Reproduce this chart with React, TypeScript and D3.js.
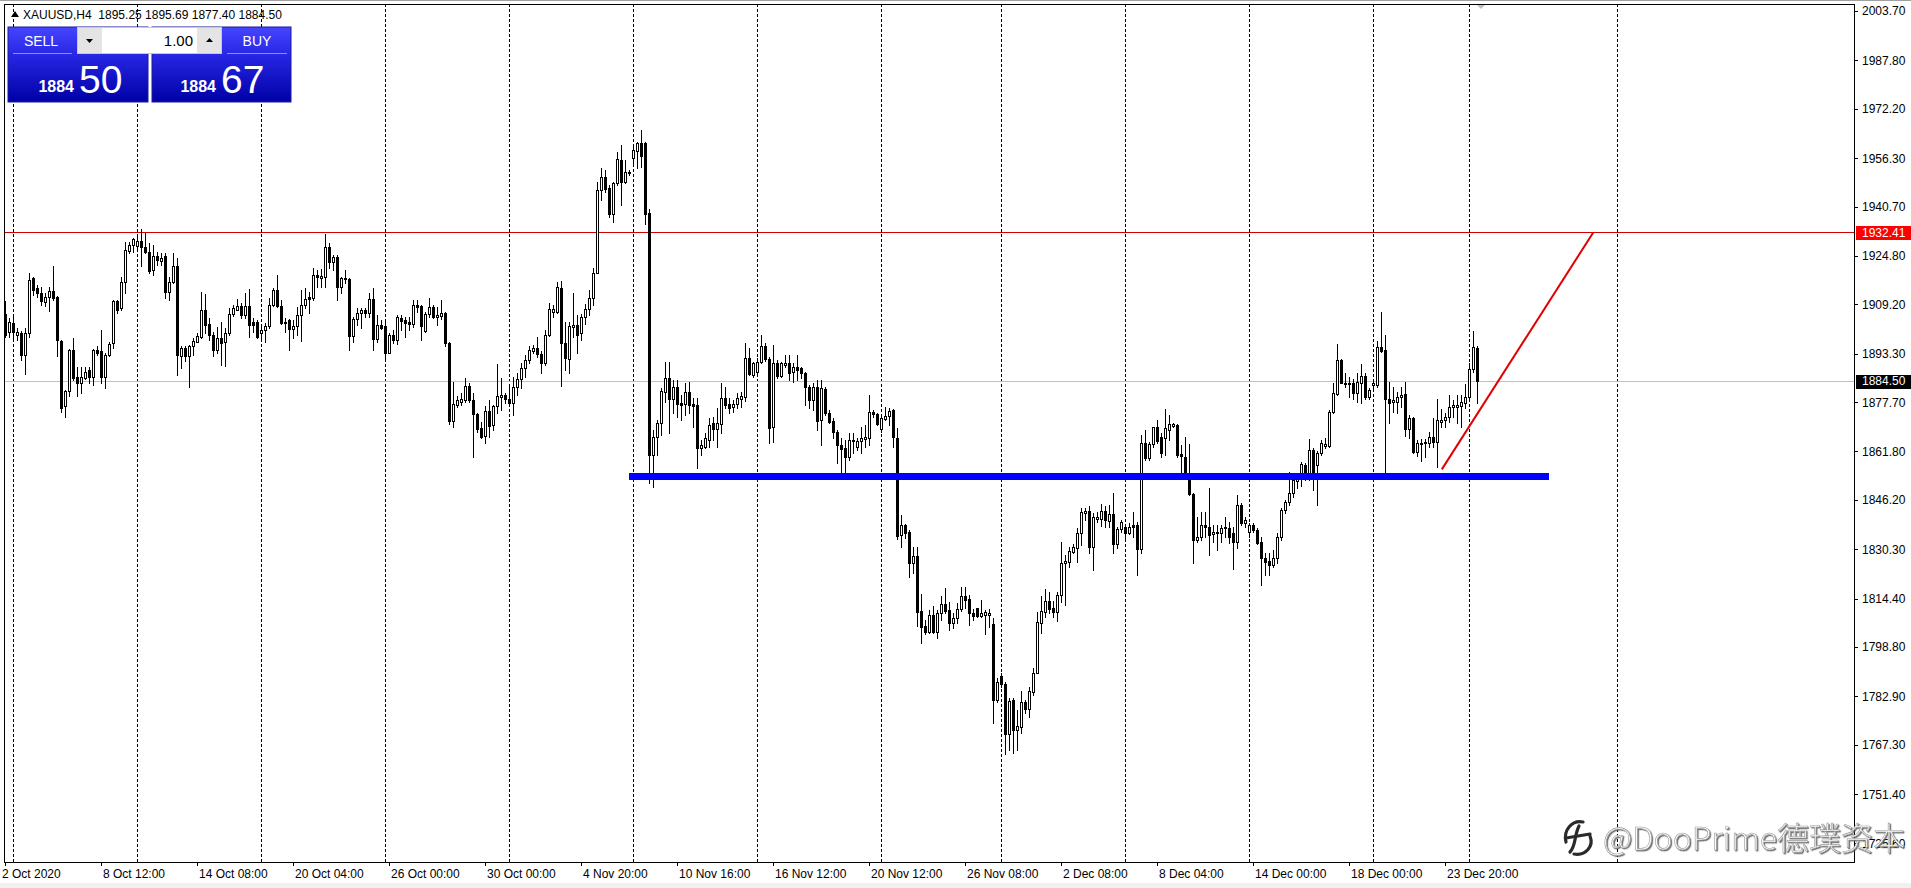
import React from 'react';
import * as d3 from 'd3';

type Bar = [number, number, number, number]; // open, high, low, close

const symbolLine = 'XAUUSD,H4  1895.25 1895.69 1877.40 1884.50';
const bidBig = '50';
const askBig = '67';
const priceHandle = '1884';
const lotSize = '1.00';

const priceTicks = [
  '2003.70', '1987.80', '1972.20', '1956.30', '1940.70', '1924.80', '1909.20', '1893.30', '1877.70',
  '1861.80', '1846.20', '1830.30', '1814.40', '1798.80', '1782.90', '1767.30', '1751.40', '1735.60',
];

const timeLabels = [
  '2 Oct 2020', '8 Oct 12:00', '14 Oct 08:00', '20 Oct 04:00', '26 Oct 00:00', '30 Oct 00:00',
  '4 Nov 20:00', '10 Nov 16:00', '16 Nov 12:00', '20 Nov 12:00', '26 Nov 08:00', '2 Dec 08:00',
  '8 Dec 04:00', '14 Dec 00:00', '18 Dec 00:00', '23 Dec 20:00',
];
const timeLabelBars = [0, 24, 48, 72, 96, 120, 144, 168, 192, 216, 240, 264, 288, 312, 336, 360];

// dotted period separators, as bar index
const gridBars = [2, 33, 64, 95, 126, 157, 188, 219, 249, 280, 311, 342, 366, 403];

const resistance = 1932.41;
const lastPrice = 1884.5;
const supportLevel = 1853.8;
const supportBars = [156, 386];
const trendFrom = { bar: 359.2, price: 1856.0 };
const trendTo = { bar: 397.1, price: 1932.41 };

// 2 Oct - 20 Oct
const earlyOct: Bar[] = [
  [1906, 1910.1, 1898.5, 1899.3], [1900.4, 1904.7, 1898.8, 1903.6], [1903.1, 1905.3, 1897.7, 1900.4],
  [1899.3, 1901.5, 1897.7, 1900.4], [1899.9, 1900.5, 1891.3, 1892.9], [1892.9, 1901.5, 1886.8, 1899.9],
  [1899.9, 1919.2, 1898.8, 1917.1], [1917.6, 1918.1, 1912.2, 1913.8], [1914.4, 1915.5, 1911.7, 1912.8],
  [1912.8, 1914.9, 1909.0, 1910.1], [1909.8, 1912.8, 1908.5, 1911.7], [1911.5, 1914.9, 1906.9, 1913.6],
  [1913.6, 1921.4, 1910.6, 1911.2], [1911.7, 1912.0, 1892.4, 1897.7], [1897.5, 1897.8, 1874.6, 1875.7],
  [1876.3, 1881.6, 1873.0, 1881.1], [1881.1, 1894.8, 1879.5, 1894.5], [1894.5, 1898.3, 1884.8, 1885.4],
  [1885.9, 1889.1, 1879.5, 1883.8], [1883.8, 1889.1, 1880.5, 1885.9], [1885.4, 1889.1, 1885.1, 1887.5],
  [1887.9, 1889.1, 1883.8, 1885.9], [1885.9, 1894.8, 1883.2, 1894.5], [1894.5, 1895.6, 1892.9, 1893.4],
  [1894.0, 1901.0, 1883.8, 1885.9], [1885.9, 1893.4, 1882.2, 1892.9], [1892.9, 1897.2, 1892.4, 1896.4],
  [1896.7, 1910.6, 1895.1, 1910.1], [1910.1, 1910.6, 1906.3, 1907.4], [1907.9, 1918.1, 1907.4, 1916.5],
  [1916.5, 1929.4, 1912.8, 1926.7], [1926.5, 1929.4, 1925.7, 1928.3], [1928.3, 1930.5, 1926.2, 1930.2],
  [1928.1, 1931.6, 1926.7, 1929.7], [1929.7, 1933.4, 1921.4, 1927.6], [1927.6, 1932.1, 1925.7, 1926.2],
  [1926.2, 1928.9, 1919.3, 1919.8], [1920.3, 1928.3, 1918.7, 1924.8], [1924.8, 1926.2, 1921.9, 1923.5],
  [1923.0, 1925.7, 1921.9, 1924.0], [1924.6, 1925.7, 1911.2, 1913.3], [1913.3, 1918.1, 1910.6, 1916.5],
  [1916.5, 1925.7, 1916.0, 1921.6], [1921.4, 1924.0, 1886.5, 1892.9], [1892.4, 1895.6, 1888.6, 1895.1],
  [1895.1, 1895.6, 1890.8, 1892.4], [1892.4, 1896.1, 1882.7, 1895.8], [1895.8, 1898.3, 1892.9, 1897.5],
  [1897.2, 1899.9, 1896.9, 1899.0], [1898.8, 1913.3, 1898.3, 1907.4], [1907.4, 1912.6, 1899.9, 1902.6],
  [1902.9, 1904.7, 1897.7, 1899.3], [1899.3, 1900.4, 1892.4, 1894.5], [1894.5, 1902.0, 1893.4, 1898.3],
  [1898.3, 1903.6, 1889.7, 1896.7], [1897.2, 1901.5, 1889.4, 1900.1], [1900.1, 1907.9, 1899.3, 1906.1],
  [1906.0, 1909.0, 1905.3, 1907.9], [1907.4, 1910.8, 1907.2, 1908.5], [1908.7, 1909.6, 1904.7, 1905.8],
  [1905.8, 1912.8, 1904.7, 1908.7], [1908.7, 1914.1, 1898.8, 1902.6], [1903.6, 1904.7, 1900.4, 1902.6],
  [1903.6, 1904.2, 1898.3, 1898.8], [1899.9, 1902.6, 1897.7, 1901.0], [1901.0, 1903.1, 1896.9, 1902.2],
  [1902.2, 1911.2, 1901.5, 1909.0], [1909.0, 1914.4, 1908.5, 1913.8], [1913.8, 1918.7, 1908.3, 1908.7],
  [1908.7, 1910.6, 1902.9, 1903.1], [1903.6, 1904.7, 1900.4, 1903.1], [1904.2, 1904.4, 1894.5, 1901.2],
  [1901.2, 1904.2, 1898.3, 1902.2], [1902.2, 1908.3, 1899.3, 1905.8], [1905.8, 1913.8, 1897.5, 1909.0],
  [1909.0, 1914.4, 1907.9, 1910.8], [1911.5, 1913.0, 1906.3, 1910.8], [1911.2, 1920.8, 1910.6, 1918.7],
  [1918.7, 1920.3, 1914.9, 1918.1], [1917.6, 1920.5, 1914.9, 1918.4], [1918.1, 1931.9, 1914.9, 1927.6],
];

// 21 Oct - 6 Nov
const lateOct: Bar[] = [
  [1927.8, 1928.8, 1920.8, 1922.9], [1922.9, 1925.1, 1920.2, 1924.5], [1924.5, 1925.1, 1910.6, 1914.9],
  [1914.9, 1918.1, 1912.7, 1917.6], [1917.6, 1920.2, 1916.0, 1917.2], [1917.2, 1917.6, 1894.5, 1899.0],
  [1899.0, 1905.2, 1897.2, 1904.4], [1904.4, 1907.9, 1902.5, 1906.5], [1906.3, 1907.9, 1901.5, 1907.2],
  [1907.2, 1907.9, 1905.2, 1906.5], [1906.3, 1912.7, 1905.2, 1910.8], [1910.8, 1914.4, 1894.5, 1897.9],
  [1897.9, 1905.7, 1897.2, 1902.5], [1902.5, 1904.2, 1901.2, 1901.5], [1902.2, 1903.6, 1891.3, 1893.6],
  [1893.6, 1899.9, 1893.4, 1899.3], [1899.3, 1900.9, 1896.6, 1897.7], [1897.7, 1905.7, 1896.4, 1905.0],
  [1904.7, 1905.7, 1900.9, 1903.9], [1904.2, 1905.2, 1898.8, 1903.3], [1903.6, 1905.2, 1900.9, 1902.9],
  [1902.9, 1910.6, 1902.0, 1909.0], [1909.0, 1910.6, 1906.8, 1908.4], [1908.7, 1909.0, 1897.7, 1902.2],
  [1900.7, 1906.8, 1900.4, 1906.1], [1906.1, 1911.1, 1905.2, 1908.4], [1908.4, 1909.0, 1904.7, 1905.0],
  [1905.0, 1908.4, 1902.5, 1905.7], [1905.4, 1910.6, 1904.4, 1906.5], [1906.5, 1906.8, 1895.8, 1896.6],
  [1896.8, 1897.2, 1870.6, 1871.7], [1871.7, 1884.3, 1869.6, 1877.1], [1876.8, 1879.7, 1876.2, 1878.2],
  [1877.8, 1880.5, 1876.7, 1878.6], [1878.4, 1885.4, 1877.8, 1882.9], [1882.9, 1883.7, 1877.8, 1878.2],
  [1878.2, 1880.5, 1859.9, 1873.9], [1873.9, 1874.1, 1868.2, 1868.9], [1869.2, 1871.4, 1866.0, 1866.5],
  [1866.8, 1876.4, 1864.4, 1874.9], [1874.9, 1878.4, 1866.5, 1870.0], [1870.3, 1876.8, 1868.7, 1876.4],
  [1876.4, 1890.0, 1874.3, 1879.7], [1879.4, 1885.4, 1875.1, 1880.0], [1880.0, 1880.5, 1877.3, 1878.6],
  [1878.6, 1882.4, 1876.7, 1877.3], [1877.3, 1885.9, 1873.5, 1882.7], [1882.5, 1887.2, 1880.0, 1885.0],
  [1885.0, 1890.4, 1882.1, 1888.6], [1888.6, 1892.9, 1885.9, 1891.3], [1891.3, 1895.6, 1890.2, 1894.5],
  [1894.3, 1896.1, 1893.4, 1895.0], [1895.0, 1898.5, 1892.1, 1893.2], [1893.2, 1894.3, 1887.0, 1890.4],
  [1890.4, 1900.9, 1889.6, 1899.3], [1899.3, 1909.5, 1899.0, 1907.6], [1906.8, 1909.0, 1905.2, 1907.6],
  [1906.8, 1916.5, 1906.3, 1914.9], [1914.4, 1916.8, 1882.9, 1896.8], [1896.8, 1903.6, 1888.1, 1891.8],
  [1891.5, 1903.6, 1887.0, 1902.2], [1902.0, 1912.7, 1898.8, 1902.5], [1902.5, 1905.7, 1893.4, 1899.3],
  [1899.8, 1906.1, 1897.7, 1905.0], [1905.0, 1909.3, 1902.9, 1907.6], [1907.6, 1913.8, 1905.7, 1911.1],
  [1911.1, 1920.8, 1909.0, 1919.4], [1919.4, 1948.7, 1919.2, 1946.0], [1946.0, 1953.0, 1942.8, 1950.1],
  [1950.1, 1952.5, 1945.5, 1946.2], [1946.6, 1947.6, 1937.4, 1938.3], [1938.3, 1948.7, 1935.8, 1948.2],
  [1948.2, 1958.4, 1947.6, 1955.9], [1955.7, 1960.5, 1941.2, 1948.7], [1948.7, 1955.7, 1948.2, 1951.9],
  [1951.4, 1952.5, 1950.9, 1951.9], [1956.2, 1960.0, 1954.8, 1958.9], [1958.7, 1961.6, 1953.0, 1961.1],
  [1961.1, 1965.4, 1953.5, 1957.0], [1961.1, 1961.6, 1935.1, 1938.3],
];

// 9 Nov - 20 Nov
const midNov: Bar[] = [
  [1938.5, 1940.0, 1851.5, 1860.6], [1860.6, 1868.7, 1850.4, 1866.5], [1866.5, 1871.9, 1860.6, 1870.8],
  [1870.8, 1882.1, 1867.1, 1881.4], [1881.0, 1890.7, 1877.8, 1885.3], [1885.3, 1890.7, 1867.6, 1878.6],
  [1878.6, 1884.8, 1874.1, 1882.4], [1882.4, 1884.8, 1873.0, 1877.1], [1877.3, 1880.0, 1871.9, 1876.6],
  [1877.1, 1883.7, 1873.5, 1881.0], [1881.0, 1884.3, 1874.1, 1876.7], [1877.1, 1878.9, 1869.8, 1876.4],
  [1876.7, 1878.9, 1856.3, 1862.8], [1862.8, 1865.5, 1860.6, 1863.9], [1863.3, 1867.6, 1862.8, 1866.0],
  [1865.5, 1872.4, 1863.3, 1870.3], [1870.8, 1872.8, 1865.5, 1868.9], [1868.9, 1875.7, 1863.3, 1870.8],
  [1870.6, 1883.7, 1867.6, 1878.9], [1878.9, 1882.7, 1875.7, 1876.7], [1877.1, 1878.9, 1874.1, 1875.7],
  [1876.0, 1878.4, 1874.6, 1877.1], [1877.1, 1880.5, 1875.7, 1878.9], [1878.6, 1881.0, 1876.2, 1879.6],
  [1879.4, 1896.8, 1878.1, 1891.8], [1891.8, 1895.0, 1886.4, 1886.7], [1886.4, 1890.7, 1885.9, 1890.2],
  [1887.5, 1891.8, 1887.0, 1890.7], [1890.7, 1899.3, 1890.2, 1895.8], [1895.8, 1896.6, 1891.0, 1891.5],
  [1891.5, 1892.3, 1864.4, 1869.2], [1869.6, 1896.1, 1864.9, 1890.4], [1890.4, 1891.2, 1885.3, 1886.1],
  [1886.1, 1890.7, 1885.9, 1890.2], [1889.6, 1892.9, 1889.1, 1890.4], [1890.4, 1892.9, 1884.8, 1887.2],
  [1887.5, 1890.2, 1884.3, 1888.9], [1888.9, 1892.9, 1884.8, 1888.0], [1888.6, 1889.1, 1885.3, 1887.0],
  [1887.2, 1887.5, 1876.7, 1882.7], [1882.7, 1883.2, 1875.7, 1878.4], [1878.4, 1883.7, 1875.1, 1882.4],
  [1882.4, 1884.8, 1868.7, 1871.7], [1871.9, 1884.8, 1863.9, 1882.1], [1881.8, 1882.7, 1873.5, 1874.1],
  [1874.3, 1875.1, 1870.8, 1871.4], [1871.7, 1872.5, 1866.0, 1868.2], [1868.2, 1868.7, 1858.0, 1863.9],
  [1863.9, 1866.0, 1854.7, 1862.5], [1862.8, 1865.5, 1854.2, 1860.1], [1860.1, 1867.6, 1859.0, 1865.5],
  [1865.0, 1867.6, 1861.2, 1865.5], [1863.1, 1866.0, 1862.2, 1865.3], [1865.0, 1869.8, 1861.2, 1866.0],
  [1865.9, 1870.3, 1863.3, 1866.3], [1866.0, 1880.0, 1863.9, 1874.6], [1874.6, 1875.1, 1873.0, 1873.8],
  [1873.8, 1874.3, 1870.3, 1870.6], [1868.9, 1873.0, 1868.2, 1872.5], [1872.1, 1876.0, 1871.9, 1873.2],
  [1873.2, 1875.7, 1870.3, 1874.9], [1875.1, 1875.3, 1863.3, 1866.3],
];

// 23 Nov - 8 Dec
const lateNov: Bar[] = [
  [1866.0, 1869.2, 1833.5, 1834.5], [1834.9, 1841.3, 1830.9, 1838.1], [1838.1, 1838.4, 1833.8, 1835.6],
  [1835.9, 1836.5, 1821.2, 1825.7], [1825.7, 1831.1, 1822.5, 1828.1], [1828.1, 1831.1, 1805.5, 1810.2],
  [1810.5, 1815.8, 1800.2, 1805.3], [1805.5, 1807.5, 1803.0, 1803.7], [1803.7, 1810.7, 1803.2, 1809.1],
  [1809.1, 1812.0, 1803.4, 1803.7], [1803.7, 1810.7, 1801.6, 1809.8], [1809.8, 1815.2, 1807.5, 1812.6],
  [1812.6, 1817.7, 1809.6, 1810.5], [1810.7, 1813.4, 1804.2, 1806.6], [1806.6, 1809.6, 1804.8, 1808.0],
  [1808.0, 1812.8, 1806.6, 1810.9], [1810.9, 1818.2, 1810.5, 1815.2], [1815.2, 1818.0, 1811.2, 1813.9],
  [1814.1, 1815.5, 1805.9, 1809.8], [1809.8, 1810.9, 1807.5, 1808.8], [1811.2, 1811.5, 1808.5, 1808.8],
  [1808.8, 1813.9, 1808.5, 1809.6], [1809.1, 1810.7, 1803.0, 1810.2], [1809.1, 1810.9, 1805.3, 1809.6],
  [1806.2, 1808.0, 1774.2, 1781.7], [1781.7, 1788.7, 1781.2, 1787.6], [1789.4, 1790.3, 1786.0, 1786.8],
  [1786.8, 1787.6, 1764.3, 1770.7], [1770.7, 1782.2, 1765.6, 1781.5], [1781.7, 1782.2, 1764.5, 1772.0],
  [1772.0, 1778.5, 1765.6, 1773.3], [1773.1, 1784.7, 1771.2, 1781.2], [1781.2, 1781.7, 1777.4, 1778.7],
  [1778.7, 1786.0, 1776.1, 1784.7], [1784.4, 1791.9, 1783.3, 1790.5], [1790.5, 1810.2, 1790.3, 1806.9],
  [1806.4, 1815.2, 1803.2, 1810.5], [1810.2, 1817.4, 1808.5, 1813.7], [1813.7, 1816.6, 1809.6, 1810.9],
  [1811.2, 1813.7, 1808.5, 1810.2], [1810.2, 1816.6, 1807.3, 1815.5], [1815.5, 1832.7, 1813.4, 1825.9],
  [1825.7, 1828.4, 1812.3, 1826.6], [1826.3, 1831.1, 1824.7, 1829.8], [1829.5, 1832.0, 1829.0, 1830.9],
  [1830.6, 1837.0, 1826.0, 1835.6], [1835.4, 1843.4, 1831.6, 1842.4], [1842.1, 1843.4, 1839.7, 1842.7],
  [1842.7, 1844.2, 1829.2, 1831.1], [1831.1, 1841.8, 1823.6, 1840.6], [1839.9, 1842.4, 1839.2, 1840.6],
  [1839.9, 1844.8, 1837.8, 1842.7], [1842.7, 1844.2, 1837.5, 1839.7], [1839.5, 1844.5, 1837.5, 1841.6],
  [1841.6, 1848.3, 1829.2, 1832.0], [1832.0, 1837.5, 1830.6, 1836.7], [1836.7, 1839.7, 1835.9, 1839.2],
  [1837.5, 1838.4, 1833.0, 1835.4], [1835.4, 1838.6, 1835.2, 1837.5], [1838.1, 1842.4, 1834.3, 1837.5],
  [1838.1, 1839.2, 1822.0, 1830.2], [1830.2, 1867.1, 1829.0, 1864.4], [1864.4, 1868.7, 1859.0, 1859.6],
  [1859.6, 1864.9, 1859.0, 1864.1], [1864.1, 1869.8, 1863.3, 1869.5], [1869.5, 1871.9, 1864.6, 1865.3],
];

// 8 Dec - 24 Dec
const december: Bar[] = [
  [1866.3, 1867.6, 1860.1, 1861.4], [1866.0, 1875.4, 1860.6, 1869.2], [1868.7, 1873.5, 1865.5, 1870.6],
  [1870.0, 1871.1, 1869.6, 1870.6], [1870.3, 1870.6, 1860.1, 1860.6], [1861.0, 1863.9, 1855.3, 1860.3],
  [1860.1, 1866.3, 1853.1, 1853.6], [1854.2, 1864.2, 1847.8, 1848.1], [1848.1, 1848.3, 1825.7, 1833.3],
  [1833.3, 1840.8, 1832.7, 1834.3], [1834.3, 1842.4, 1833.3, 1838.1], [1838.1, 1842.4, 1834.3, 1837.5],
  [1837.5, 1849.9, 1828.4, 1834.9], [1835.2, 1838.1, 1832.7, 1835.9], [1835.4, 1838.1, 1830.0, 1835.9],
  [1835.4, 1838.1, 1832.7, 1837.0], [1837.3, 1840.8, 1834.3, 1837.0], [1837.0, 1839.2, 1832.2, 1834.1],
  [1835.4, 1837.5, 1823.8, 1832.7], [1832.7, 1847.8, 1830.6, 1844.5], [1844.5, 1845.1, 1838.1, 1838.6],
  [1838.6, 1840.8, 1837.5, 1839.7], [1835.9, 1838.6, 1834.3, 1838.1], [1838.1, 1838.6, 1835.9, 1836.5],
  [1836.5, 1837.0, 1832.0, 1832.4], [1832.7, 1834.3, 1818.8, 1827.4], [1827.4, 1829.0, 1822.0, 1826.3],
  [1826.6, 1829.0, 1822.0, 1825.2], [1825.2, 1830.0, 1824.7, 1827.4], [1827.4, 1835.4, 1825.7, 1834.1],
  [1834.1, 1843.5, 1833.3, 1842.9], [1842.9, 1846.1, 1841.9, 1845.6], [1845.6, 1855.3, 1844.5, 1848.3],
  [1848.3, 1854.7, 1847.2, 1852.6], [1852.1, 1854.2, 1849.9, 1853.4], [1853.1, 1858.5, 1850.7, 1857.7],
  [1857.4, 1858.0, 1852.6, 1853.7], [1853.7, 1865.7, 1852.6, 1862.3], [1862.3, 1862.8, 1849.2, 1854.2],
  [1857.4, 1862.0, 1844.5, 1861.2], [1861.2, 1865.5, 1860.6, 1864.4], [1863.5, 1866.0, 1862.8, 1864.2],
  [1863.5, 1875.1, 1863.3, 1874.6], [1874.6, 1883.7, 1874.3, 1880.5], [1880.3, 1896.4, 1880.0, 1891.2],
  [1891.2, 1891.5, 1883.7, 1883.9], [1883.9, 1886.9, 1882.7, 1883.5], [1883.5, 1885.9, 1879.4, 1883.9],
  [1883.7, 1885.0, 1878.6, 1880.7], [1880.7, 1886.9, 1877.8, 1884.3], [1883.9, 1890.0, 1877.5, 1886.1],
  [1886.1, 1886.9, 1878.6, 1879.2], [1879.2, 1882.1, 1878.6, 1881.6], [1883.2, 1884.8, 1881.6, 1883.7],
  [1883.2, 1897.5, 1882.7, 1895.3], [1895.5, 1906.8, 1893.9, 1894.3], [1894.5, 1899.3, 1854.9, 1878.6],
  [1878.6, 1884.3, 1870.8, 1877.5], [1877.8, 1882.7, 1874.6, 1878.4], [1877.8, 1881.0, 1874.1, 1879.2],
  [1879.2, 1882.7, 1876.2, 1880.0], [1880.3, 1884.3, 1866.6, 1868.9], [1868.9, 1873.5, 1866.0, 1872.5],
  [1872.5, 1873.0, 1861.2, 1861.7], [1861.7, 1865.5, 1860.3, 1864.6], [1864.2, 1865.7, 1858.8, 1864.6],
  [1864.4, 1865.7, 1860.1, 1864.9], [1864.6, 1868.2, 1863.1, 1866.5], [1866.5, 1872.5, 1863.1, 1864.9],
  [1864.9, 1878.6, 1856.9, 1871.9], [1871.4, 1875.4, 1869.8, 1871.9], [1871.9, 1874.1, 1869.8, 1873.0],
  [1872.8, 1880.0, 1871.4, 1876.2], [1876.2, 1878.4, 1873.0, 1876.7], [1876.2, 1880.0, 1871.1, 1876.7],
  [1876.4, 1880.0, 1869.6, 1877.8], [1877.5, 1883.5, 1875.7, 1879.2], [1879.2, 1890.2, 1879.0, 1888.2],
  [1888.2, 1900.7, 1887.5, 1895.5], [1895.25, 1895.69, 1877.4, 1884.5],
];

const bars: Bar[] = [...earlyOct, ...lateOct, ...midNov, ...lateNov, ...december];

const W = 1911;
const H = 888;
const plot = { left: 4, top: 4, right: 1854, bottom: 862 };
const font = '"Liberation Sans", Arial, sans-serif';

const xScale = d3.scaleLinear().domain([0, 368]).range([5, 1477]);
const yScale = d3.scaleLinear().domain([1729.5, 2005.95]).range([plot.bottom, plot.top]);

const Candle: React.FC<{ b: Bar; i: number }> = ({ b, i }) => {
  const [o, h, l, c] = b;
  const cx = Math.round(xScale(i));
  const yh = Math.round(yScale(h));
  const yl = Math.round(yScale(l));
  const top = Math.round(yScale(Math.max(o, c)));
  const bot = Math.round(yScale(Math.min(o, c)));
  const bull = c >= o;
  return (
    <g>
      <line x1={cx + 0.5} x2={cx + 0.5} y1={yh} y2={yl + 1} stroke="#000" />
      {bull ? (
        <rect x={cx - 0.5} y={top + 0.5} width={2} height={Math.max(0, bot - top)} fill="#fff" stroke="#000" />
      ) : (
        <rect x={cx - 1} y={top} width={3} height={Math.max(1, bot - top + 1)} fill="#000" />
      )}
    </g>
  );
};

const TradePanel: React.FC = () => (
  <g fontFamily={font}>
    <defs>
      <linearGradient id="panelBlue" x1="0" y1="0" x2="0" y2="1">
        <stop offset="0%" stopColor="#4646ff" />
        <stop offset="35%" stopColor="#2828e6" />
        <stop offset="100%" stopColor="#0000a6" />
      </linearGradient>
    </defs>
    <rect x={8} y={27} width={140} height={75} fill="url(#panelBlue)" stroke="#1a1a9a" />
    <rect x={152} y={27} width={139} height={75} fill="url(#panelBlue)" stroke="#1a1a9a" />
    <line x1={13} x2={72} y1={53.5} y2={53.5} stroke="#8c8cff" />
    <line x1={227} x2={287} y1={53.5} y2={53.5} stroke="#8c8cff" />
    <text x={41} y={46} fill="#fff" fontSize={14} textAnchor="middle">SELL</text>
    <text x={257} y={46} fill="#fff" fontSize={14} textAnchor="middle">BUY</text>
    <rect x={77.5} y={27.5} width={144} height={26} fill="#fff" stroke="#c8c8c8" />
    <rect x={78} y={28} width={24} height={25} fill="#e4e4e4" />
    <rect x={197} y={28} width={24} height={25} fill="#e4e4e4" />
    <path d="M86,39 L93,39 L89.5,43 Z" fill="#000" />
    <path d="M206,42 L213,42 L209.5,38 Z" fill="#000" />
    <text x={193} y={46} fontSize={15} textAnchor="end" fill="#000">{lotSize}</text>
    <text x={74} y={92} fontSize={16} fontWeight="bold" fill="#fff" textAnchor="end">{priceHandle}</text>
    <text x={79} y={92.5} fontSize={39} fill="#fff">{bidBig}</text>
    <text x={216} y={92} fontSize={16} fontWeight="bold" fill="#fff" textAnchor="end">{priceHandle}</text>
    <text x={221} y={92.5} fontSize={39} fill="#fff">{askBig}</text>
  </g>
);

const Watermark: React.FC = () => (
  <g>
    <defs>
      <filter id="wmShadow" x="-5%" y="-20%" width="110%" height="140%">
        <feDropShadow dx={1.2} dy={1.2} stdDeviation={0.4} floodColor="#555" floodOpacity={0.85} />
      </filter>
    </defs>
    <g fill="none" stroke="#2a2a2a" strokeWidth={3.2} strokeLinecap="round">
      <path d="M1583,822 C1572,820 1563,830 1566,842" />
      <path d="M1566,838 L1590,834" />
      <path d="M1574,854 C1586,856 1594,846 1590,836" />
      <path d="M1579,826 C1574,836 1576,846 1570,852" />
    </g>
    <text x={1603} y={850} fontFamily='"Noto Sans CJK SC", "Noto Sans", sans-serif' fontWeight={300}
      fontSize={32} fill="#fbfbfb" stroke="#9a9a9a" strokeWidth={0.6} filter="url(#wmShadow)">@DooPrime德璞资本</text>
  </g>
);

export default function App() {
  const supportY = yScale(supportLevel);
  return (
    <div style={{ position: 'fixed', left: 0, top: 0, width: W, height: H, background: '#fff' }}>
      <svg width={W} height={H} viewBox={`0 0 ${W} ${H}`} style={{ display: 'block' }}>
        <rect x={0} y={0} width={W} height={H} fill="#fff" />
        <line x1={0} x2={W} y1={0.5} y2={0.5} stroke="#a0a0a0" />
        <rect x={0} y={883} width={W} height={5} fill="#f0f0f0" />

        <g shapeRendering="crispEdges">
          {gridBars.map((b) => {
            const x = Math.round(xScale(b)) + 0.5;
            return x < plot.right ? (
              <line key={b} x1={x} x2={x} y1={plot.top} y2={plot.bottom} stroke="#000" strokeDasharray="3,2" />
            ) : null;
          })}
          <line x1={plot.left} x2={plot.right} y1={Math.round(yScale(lastPrice)) + 0.5} y2={Math.round(yScale(lastPrice)) + 0.5} stroke="#c0c0c0" />
          <line x1={plot.left} x2={plot.right} y1={Math.round(yScale(resistance)) + 0.5} y2={Math.round(yScale(resistance)) + 0.5} stroke="#d00000" />
          {bars.map((b, i) => (
            <Candle key={i} b={b} i={i} />
          ))}
          <rect x={xScale(supportBars[0])} y={supportY - 3} width={xScale(supportBars[1]) - xScale(supportBars[0])} height={7} fill="#0000ff" />
        </g>

        <line x1={xScale(trendFrom.bar)} y1={yScale(trendFrom.price)} x2={xScale(trendTo.bar)} y2={yScale(trendTo.price)} stroke="#e00000" strokeWidth={2} />

        <path d={`M${xScale(369) - 5},4 L${xScale(369) + 5},4 L${xScale(369)},9 Z`} fill="#c0c0c0" />

        <g shapeRendering="crispEdges">
          <rect x={plot.left + 0.5} y={plot.top + 0.5} width={plot.right - plot.left} height={plot.bottom - plot.top} fill="none" stroke="#000" />
          {priceTicks.map((t) => {
            const y = Math.round(yScale(+t)) + 0.5;
            return <line key={t} x1={plot.right} x2={plot.right + 4} y1={y} y2={y} stroke="#000" />;
          })}
          {timeLabelBars.map((b) => {
            const x = Math.round(xScale(b)) + 0.5;
            return <line key={b} x1={x} x2={x} y1={plot.bottom} y2={plot.bottom + 4} stroke="#000" />;
          })}
          <rect x={1856} y={Math.round(yScale(resistance)) - 6} width={55} height={14} fill="#ff0000" />
          <rect x={1856} y={Math.round(yScale(lastPrice)) - 6} width={55} height={14} fill="#000" />
        </g>

        <g fontFamily={font} fontSize={12}>
          {priceTicks.map((t) => (
            <text key={t} x={1862} y={yScale(+t) + 4.5} fill="#000">{t}</text>
          ))}
          <text x={1862} y={yScale(resistance) + 4.5} fill="#fff">{resistance.toFixed(2)}</text>
          <text x={1862} y={yScale(lastPrice) + 4.5} fill="#fff">{lastPrice.toFixed(2)}</text>
          {timeLabels.map((t, i) => (
            <text key={t} x={Math.round(xScale(timeLabelBars[i])) + (i === 0 ? -3 : 2)} y={878} fill="#000">{t}</text>
          ))}
          <path d="M11,17 L15,11 L19,17 Z" fill="#000" />
          <text x={23} y={19} fill="#000" style={{ whiteSpace: 'pre' }}>{symbolLine}</text>
        </g>

        <TradePanel />
        <Watermark />
      </svg>
    </div>
  );
}
